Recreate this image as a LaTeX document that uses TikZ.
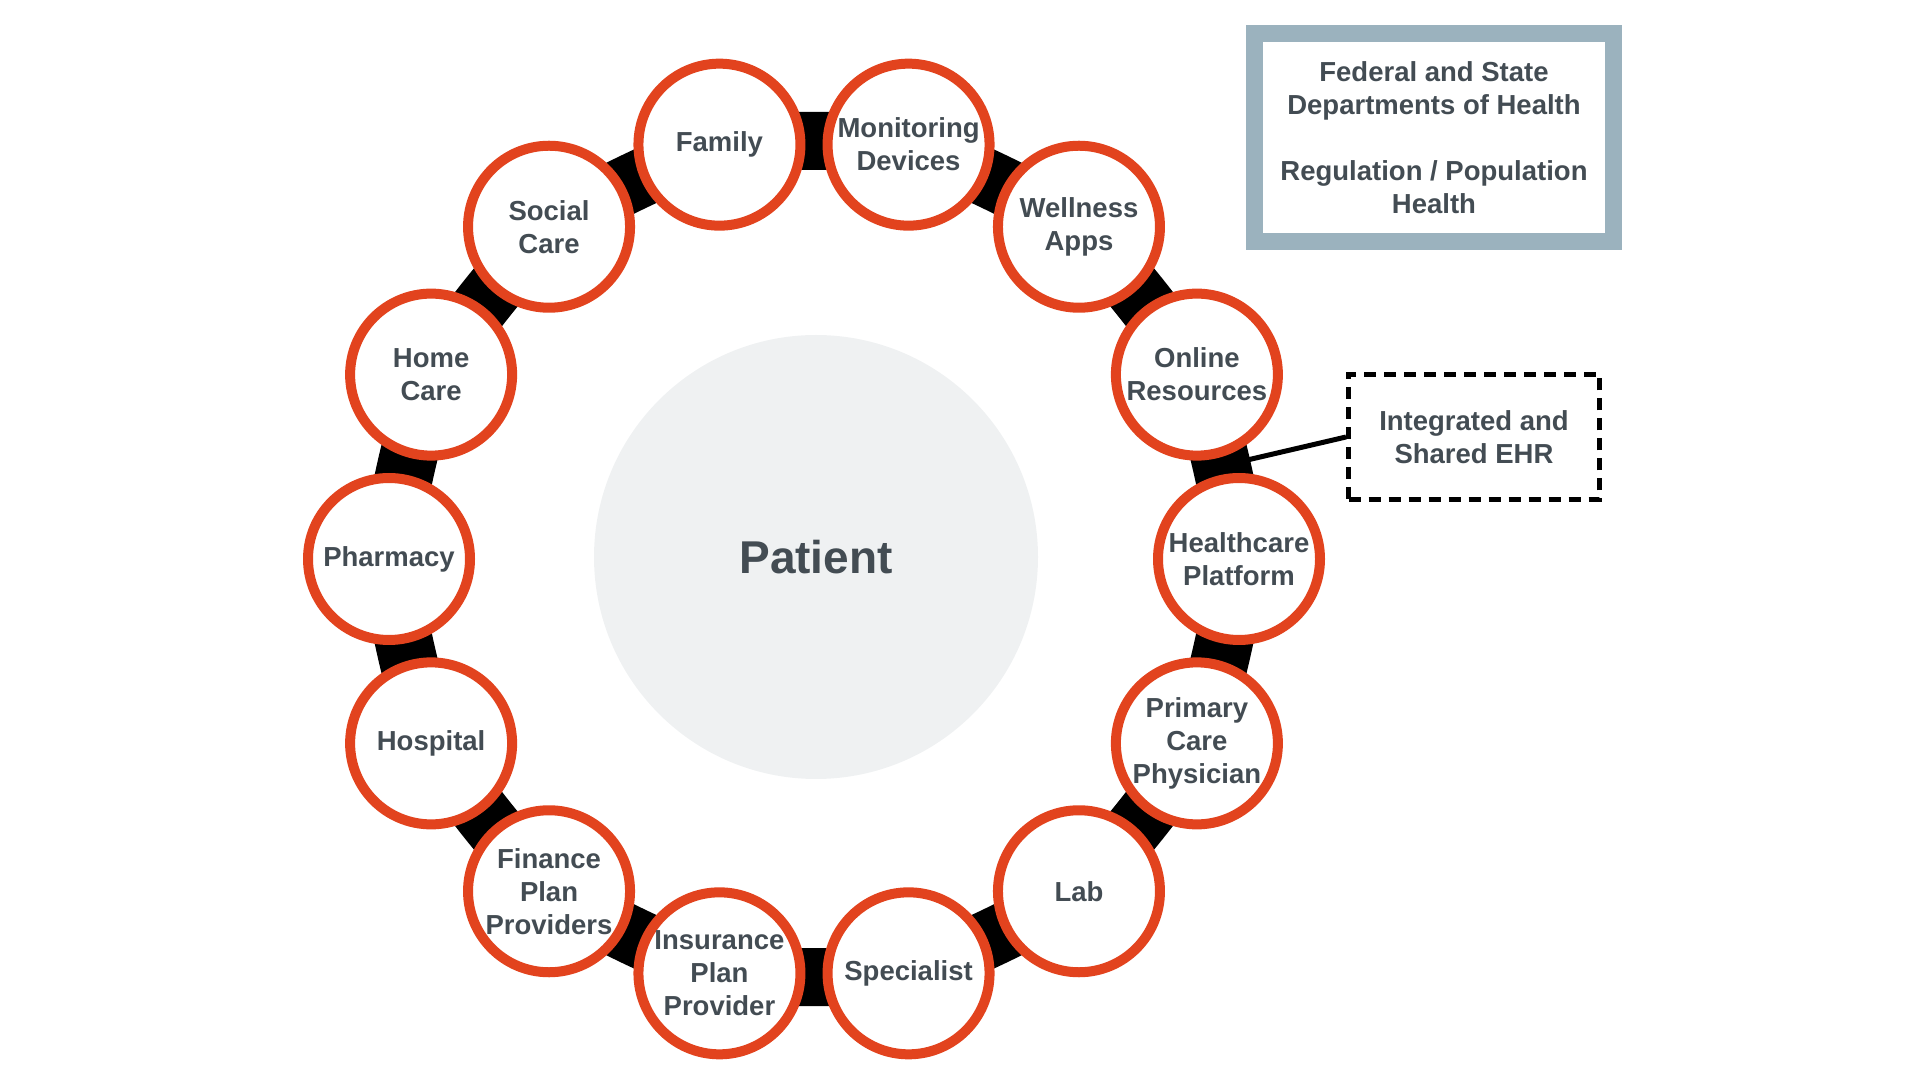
\documentclass[tikz,border=0pt]{standalone}
\usepackage{fontspec}
\setmainfont{Liberation Sans}
\usetikzlibrary{calc}
\definecolor{ringorange}{HTML}{E2431E}
\definecolor{txt}{HTML}{434C53}
\definecolor{boxgray}{HTML}{9BB2BE}
\definecolor{patfill}{HTML}{EFF1F2}
\pgfdeclarelayer{bg}
\pgfsetlayers{bg,main}
\tikzset{
  hub/.style={circle, draw=ringorange, fill=white, line width=10pt, minimum size=162pt, inner sep=0pt,
    align=center, text=txt, font=\fontsize{27.5}{33}\selectfont\bfseries},
  band/.style={draw=black, line width=58pt},
  lbl/.style={align=center, text=txt, font=\fontsize{27.5}{33}\selectfont\bfseries}
}
\begin{document}
\begin{tikzpicture}[x=1pt,y=1pt]
\useasboundingbox (0,0) rectangle (1920,1080);
\node[circle, fill=patfill, minimum size=444pt, inner sep=0pt, text=txt,
  font=\fontsize{46}{50}\selectfont\bfseries] (patient) at (816,523) {Patient};
\begin{scope}[shift={(814,521)}]
\node[hub] (hp) at (0:425) {Healthcare\\Platform};
\node[hub] (or) at (25.714:425) {Online\\Resources};
\node[hub] (wa) at (51.429:425) {Wellness\\Apps};
\node[hub] (md) at (77.143:425) {Monitoring\\Devices};
\node[hub] (fa) at (102.857:425) {Family};
\node[hub] (sc) at (128.571:425) {Social\\Care};
\node[hub] (hc) at (154.286:425) {Home\\Care};
\node[hub] (ph) at (180:425) {Pharmacy};
\node[hub] (ho) at (205.714:425) {Hospital};
\node[hub] (fp) at (231.429:425) {Finance\\Plan\\Providers};
\node[hub] (ip) at (257.143:425) {Insurance\\Plan\\Provider};
\node[hub] (sp) at (282.857:425) {Specialist};
\node[hub] (lab) at (308.571:425) {Lab};
\node[hub] (pcp) at (334.286:425) {Primary\\Care\\Physician};
\coordinate (ehrpt) at (12.857:421);
\end{scope}
\node[draw=boxgray, line width=17pt, minimum width=359pt, minimum height=208pt, inner sep=0pt, lbl]
  (gov) at (1434,942.5) {Federal and State\\Departments of Health\\[33pt]Regulation / Population\\Health};
\node[draw=black, line width=5pt, dash pattern=on 12pt off 8pt, minimum width=251pt, minimum height=125pt,
  inner sep=0pt, lbl] (ehr) at (1474,643) {Integrated and\\Shared EHR};
\begin{pgfonlayer}{bg}
\draw[line width=5pt] (ehrpt) -- (ehr.west);
\draw[band] (hp.center) to[bend right=4] (or.center) to[bend right=4] (wa.center) to[bend right=4] (md.center)
  to[bend right=4] (fa.center) to[bend right=4] (sc.center) to[bend right=4] (hc.center) to[bend right=4] (ph.center)
  to[bend right=4] (ho.center) to[bend right=4] (fp.center) to[bend right=4] (ip.center) to[bend right=4] (sp.center)
  to[bend right=4] (lab.center) to[bend right=4] (pcp.center) to[bend right=4] (hp.center);
\end{pgfonlayer}
\end{tikzpicture}
\end{document}
